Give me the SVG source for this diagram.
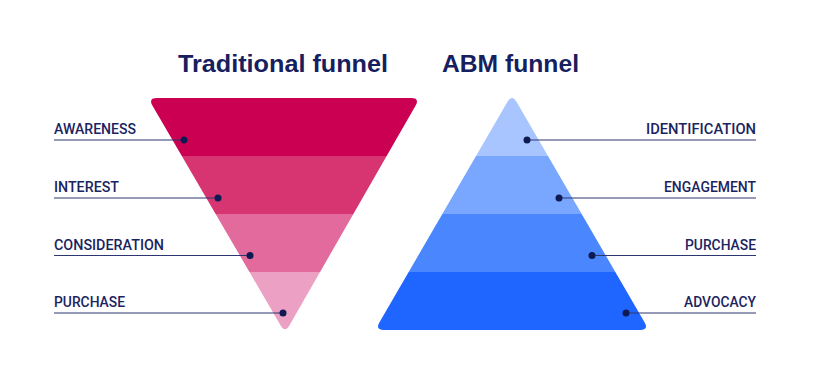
<svg xmlns="http://www.w3.org/2000/svg" width="827" height="389" viewBox="0 0 827 389">
<style>
.title{font-family:"Liberation Sans",Arial,sans-serif;font-weight:bold;font-size:23px;fill:#17205f}
.lbl{font-family:Roboto,"Liberation Sans",sans-serif;font-weight:500;font-size:13.8px;fill:#1b245f}
.ln{stroke:#2c3670;stroke-width:1.1;fill:none}
.dot{fill:#0f1a52}
</style>
<defs>
<clipPath id="funnelClip">
<path d="M157,98 L411,98 Q420,98 415.5,105.8 L289.5,325.2 Q285,333 280.5,325.2 L152.5,105.8 Q148,98 157,98 Z"/>
</clipPath>
<clipPath id="pyrClip">
<path d="M507.5,101.8 Q512,94 516.5,101.8 L644.5,322.2 Q649,330 640,330 L384,330 Q375,330 379.5,322.2 Z"/>
</clipPath>
</defs>
<rect width="827" height="389" fill="#ffffff"/>
<text class="title" x="178" y="72" textLength="210" lengthAdjust="spacingAndGlyphs">Traditional funnel</text>
<text class="title" x="442" y="72" textLength="137" lengthAdjust="spacingAndGlyphs">ABM funnel</text>
<g id="traditional-funnel" clip-path="url(#funnelClip)">
<rect x="140" y="90" width="290" height="66" fill="#cc0053"/>
<rect x="140" y="156" width="290" height="58" fill="#d73572"/>
<rect x="140" y="214" width="290" height="58" fill="#e36a9d"/>
<rect x="140" y="272" width="290" height="70" fill="#eca0c4"/>
</g>
<g id="abm-funnel" clip-path="url(#pyrClip)">
<rect x="370" y="90" width="290" height="66" fill="#a8c5ff"/>
<rect x="370" y="156" width="290" height="58" fill="#79a6ff"/>
<rect x="370" y="214" width="290" height="58" fill="#4a87ff"/>
<rect x="370" y="272" width="290" height="60" fill="#1e66ff"/>
</g>
<g id="connectors">
<line class="ln" x1="54" y1="140" x2="184" y2="140"/>
<line class="ln" x1="54" y1="198" x2="218" y2="198"/>
<line class="ln" x1="54" y1="255.5" x2="250" y2="255.5"/>
<line class="ln" x1="54" y1="313" x2="283" y2="313"/>
<line class="ln" x1="527" y1="140" x2="756" y2="140"/>
<line class="ln" x1="559" y1="198" x2="756" y2="198"/>
<line class="ln" x1="592" y1="255.5" x2="756" y2="255.5"/>
<line class="ln" x1="626" y1="313" x2="756" y2="313"/>
</g>
<g id="awareness"><text class="lbl" x="54" y="134" textLength="82" lengthAdjust="spacingAndGlyphs">AWARENESS</text><circle class="dot" cx="184" cy="140" r="3.5"/></g>
<g id="interest"><text class="lbl" x="54" y="192" textLength="65" lengthAdjust="spacingAndGlyphs">INTEREST</text><circle class="dot" cx="218" cy="198" r="3.5"/></g>
<g id="consideration"><text class="lbl" x="54" y="250" textLength="110" lengthAdjust="spacingAndGlyphs">CONSIDERATION</text><circle class="dot" cx="250" cy="255.5" r="3.5"/></g>
<g id="purchase-left"><text class="lbl" x="54" y="307" textLength="71" lengthAdjust="spacingAndGlyphs">PURCHASE</text><circle class="dot" cx="283" cy="313" r="3.5"/></g>
<g id="identification"><text class="lbl" x="756" y="134" text-anchor="end" textLength="110" lengthAdjust="spacingAndGlyphs">IDENTIFICATION</text><circle class="dot" cx="527" cy="140" r="3.5"/></g>
<g id="engagement"><text class="lbl" x="756" y="192" text-anchor="end" textLength="92" lengthAdjust="spacingAndGlyphs">ENGAGEMENT</text><circle class="dot" cx="559" cy="198" r="3.5"/></g>
<g id="purchase-right"><text class="lbl" x="756" y="250" text-anchor="end" textLength="71" lengthAdjust="spacingAndGlyphs">PURCHASE</text><circle class="dot" cx="592" cy="255.5" r="3.5"/></g>
<g id="advocacy"><text class="lbl" x="756" y="307" text-anchor="end" textLength="72" lengthAdjust="spacingAndGlyphs">ADVOCACY</text><circle class="dot" cx="626" cy="313" r="3.5"/></g>
</svg>
